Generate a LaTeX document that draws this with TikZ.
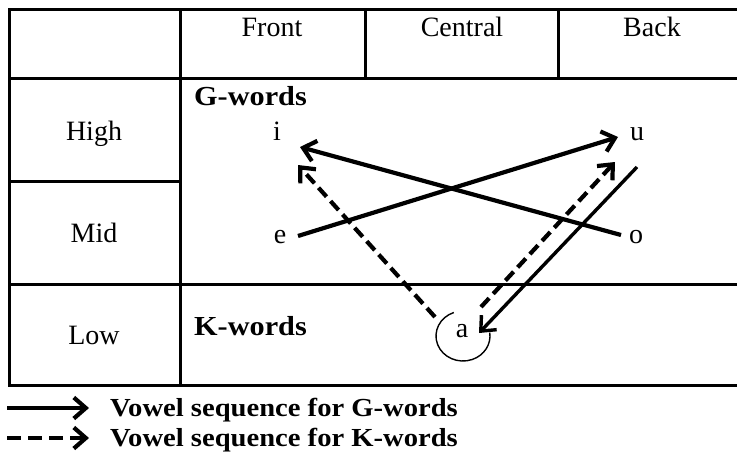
\documentclass[tikz,border=0pt]{standalone}
\usepackage{fontspec}
\setmainfont{Liberation Serif}
\newfontface\widebf{Liberation Serif Bold}[FakeStretch=1.1]
\usetikzlibrary{arrows.meta}
\begin{document}
\begin{tikzpicture}[x=1pt,y=-1pt,
  gridline/.style={line width=3pt},
  lbl/.style={anchor=base,inner sep=0pt,font=\fontsize{28}{32}\selectfont},
  boldlbl/.style={anchor=base west,inner sep=0pt,font=\fontsize{27.5}{32}\selectfont\widebf},
  leglbl/.style={anchor=base west,inner sep=0pt,font=\fontsize{26}{30}\selectfont\widebf},
  garrow/.style={line width=4.2pt,-{Straight Barb[length=12pt,width=21pt]}},
  karrow/.style={garrow,dash pattern=on 12pt off 6pt}]
\useasboundingbox (0,0) rectangle (737,452);
% table
\draw[gridline] (9,10) -- (740,10);
\draw[gridline] (9,79) -- (740,79);
\draw[gridline] (9,284) -- (740,284);
\draw[gridline] (9,385) -- (740,385);
\draw[gridline] (9,181) -- (180,181);
\draw[gridline] (9,8.5) -- (9,386.5);
\draw[gridline] (180,8.5) -- (180,386.5);
\draw[gridline] (365,8.5) -- (365,79);
\draw[gridline] (558,8.5) -- (558,79);
% headers
\node[lbl] (front) at (272,37) {Front};
\node[lbl] (central) at (462,37) {Central};
\node[lbl] (back) at (652,37) {Back};
\node[lbl] (high) at (94,140) {High};
\node[lbl] (mid) at (94,242) {Mid};
\node[lbl] (low) at (94,344) {Low};
\node[boldlbl] (gwords) at (194,106) {G-words};
\node[boldlbl] (kwords) at (194,335) {K-words};
% vowels
\node[lbl] (i) at (277,140) {i};
\node[lbl] (u) at (637,140) {u};
\node[lbl] (e) at (280,243) {e};
\node[lbl] (o) at (636,243) {o};
\node[lbl] (a) at (462,337) {a};
% arrow end points
\coordinate (oOut) at (621,235);
\coordinate (iIn) at (300,147);
\coordinate (eOut) at (298,236);
\coordinate (uIn) at (618,137);
\coordinate (aOutL) at (435,317);
\coordinate (iInK) at (298,165);
\coordinate (aOutR) at (481,307);
\coordinate (uInK) at (615,162);
\coordinate (uOut) at (637,167);
\coordinate (aIn) at (479,333);
\coordinate (aLoop) at (463,336);
% G-word arrows
\draw[garrow] (oOut) -- (iIn);
\draw[garrow] (eOut) -- (uIn);
\draw[garrow,line width=3.4pt] (uOut) -- (aIn);
% K-word arrows
\draw[karrow] (aOutL) -- (iInK);
\draw[karrow] (aOutR) -- (uInK);
% loop round a
\draw[line width=1.4pt] ([shift={(-110:27 and 25)}]aLoop) arc[start angle=-110,end angle=-368,x radius=27,y radius=25];
% legend
\coordinate (l1s) at (7,408);
\coordinate (l1e) at (89,408);
\coordinate (l2s) at (7,438);
\coordinate (l2e) at (89,438);
\draw[garrow] (l1s) -- (l1e);
\draw[karrow,dash pattern=on 14pt off 7pt] (l2s) -- (l2e);
\node[leglbl] (leg1) at (110,416) {Vowel sequence for G-words};
\node[leglbl] (leg2) at (110,446) {Vowel sequence for K-words};
\end{tikzpicture}
\end{document}
